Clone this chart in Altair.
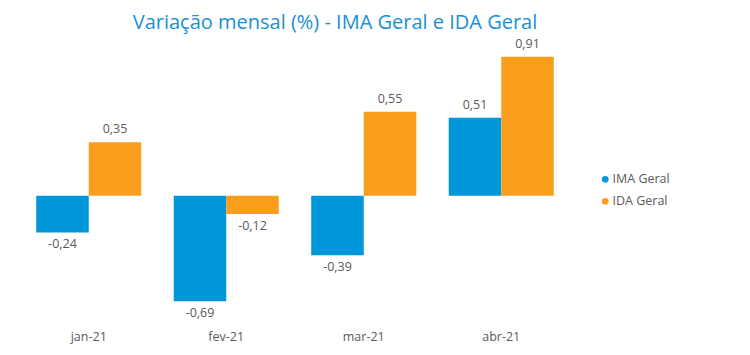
import altair as alt
import pandas as pd

months = ["jan-21", "fev-21", "mar-21", "abr-21"]
ima = [-0.24, -0.69, -0.39, 0.51]
ida = [0.35, -0.12, 0.55, 0.91]
series = ["IMA Geral", "IDA Geral"]
colors = ["#0097DA", "#F99E1C"]

rows = []
for m, a, b in zip(months, ima, ida):
    rows.append({"mes": m, "serie": series[0], "v": a})
    rows.append({"mes": m, "serie": series[1], "v": b})
df = pd.DataFrame(rows)

font = "Open Sans"
xenc = alt.X("mes:N", sort=months, title=None,
             scale=alt.Scale(paddingInner=0.236, paddingOuter=0.118),
             axis=alt.Axis(domain=False, ticks=False, labelAngle=0, labelPadding=12,
                           labelFontSize=12.5, labelColor="#595959", labelFont=font,
                           orient="bottom", grid=False))
yenc = alt.Y("v:Q", title=None, scale=alt.Scale(domain=[-0.8, 1.0], nice=False, zero=True),
             axis=None)
xoff = alt.XOffset("serie:N", sort=series)

base = alt.Chart(df).encode(x=xenc, y=yenc, xOffset=xoff)

bars = base.mark_bar().encode(
    color=alt.Color("serie:N", sort=series,
                    scale=alt.Scale(domain=series, range=colors),
                    legend=alt.Legend(title=None, orient="none", legendX=579, legendY=130,
                                      symbolType="circle", symbolSize=45, labelFontSize=12.5,
                                      labelColor="#595959", labelFont=font, rowPadding=9,
                                      symbolOffset=0, labelOffset=1))
)

lab = base.transform_calculate(t="replace(replace(format(datum.v, '.2f'), '.', ','), '\u2212', '-')")
pos = lab.transform_filter("datum.v >= 0").mark_text(
    baseline="bottom", dy=-6, fontSize=12.5, color="#595959", font=font).encode(text="t:N")
neg = lab.transform_filter("datum.v < 0").mark_text(
    baseline="top", dy=6, fontSize=12.5, color="#595959", font=font).encode(text="t:N")

chart = alt.layer(bars, pos, neg).properties(
    width=550, height=275,
    title=alt.TitleParams("Variação mensal (%) - IMA Geral e IDA Geral", fontSize=20,
                          font=font, fontWeight="normal", color="#1A8FD8",
                          anchor="middle", dx=40, offset=5),
    autosize=alt.AutoSizeParams(type="none"),
    padding={"left": 12, "top": 35, "right": 160, "bottom": 30},
).configure_view(stroke=None)

chart.save("out.html", embed_options={"renderer": "svg", "actions": False})
